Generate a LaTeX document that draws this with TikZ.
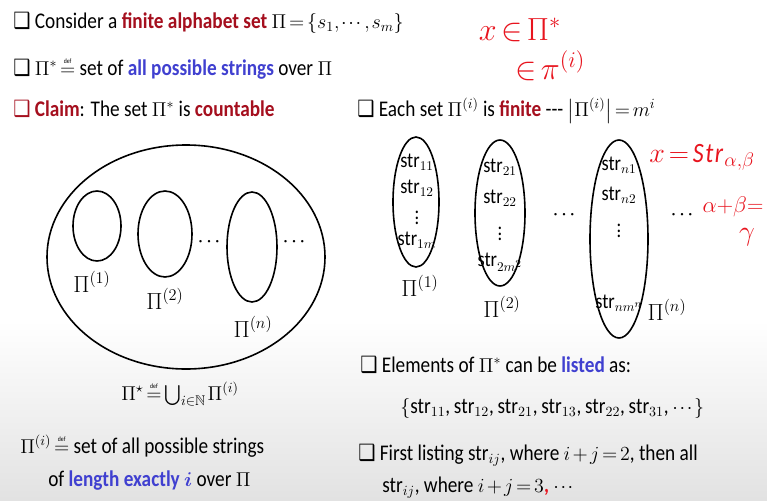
\RequirePackage{fix-cm}
\documentclass[tikz,border=0pt]{standalone}
\usepackage{fontspec}
\usepackage{amsmath,amssymb}
\usepackage{tikz}
\usetikzlibrary{shapes.geometric, positioning}
\setmainfont{Carlito}[FakeStretch=0.86]
\newfontfamily\symfont{DejaVu Sans}[FakeStretch=0.86]
\definecolor{titlered}{RGB}{165,15,30}
\definecolor{keyblue}{RGB}{64,64,208}
\definecolor{inkred}{RGB}{232,20,30}
\definecolor{bggray}{RGB}{226,226,226}
\DeclareMathSizes{16.8}{15}{10.5}{8}
\DeclareMathSizes{16}{13}{10}{8}
\newcommand{\qb}{{\symfont\char"2751}}
\newcommand{\hl}[1]{\textbf{\color{titlered}#1}}
\newcommand{\hb}[1]{\textbf{\color{keyblue}#1}}
\newcommand{\defeq}{\mathrel{\overset{\text{\tiny def}}{=}}}
\thinmuskip=1.5mu
\medmuskip=2mu
\thickmuskip=2.5mu

\begin{document}
\begin{tikzpicture}[
    x=0.75pt, y=-0.75pt,
    txt/.style={anchor=base west, inner sep=0pt, font=\fontsize{16.8}{20}\selectfont, text=black},
    ctxt/.style={anchor=base, inner sep=0pt, font=\fontsize{16.8}{20}\selectfont, text=black},
    lbl/.style={inner sep=0pt, font=\fontsize{17.5}{20}\selectfont},
    entry/.style={inner sep=0pt, font=\fontsize{16}{18}\selectfont},
    setshape/.style={ellipse, draw, line width=1.2pt, inner sep=0pt},
    ink/.style={inner sep=0pt, text=inkred, font=\fontsize{21}{24}\selectfont}
]
% slide background
\fill[white] (0,0) rectangle (767,500);
\shade[top color=white, bottom color=bggray] (0,320) rectangle (767,500);
\useasboundingbox (0,0) rectangle (767,500);

% left column
\node[txt] (consider) at (13,28) {\qb\ Consider a \hl{finite alphabet set} $\Pi=\{s_1,\cdots,s_m\}$};
\node[txt] (kleene) at (13,75) {\qb\ $\Pi^{*}\defeq$ set of \hb{all possible strings} over $\Pi$};
\node[txt] (claim) at (13,116) {\hl{\qb\ Claim}: The set $\Pi^{*}$ is \hl{countable}};

\node[setshape, minimum width=208.5pt, minimum height=168pt] (allstr) at (186,257) {};
\node[setshape, minimum width=36pt, minimum height=52.5pt] (len1) at (97,226) {};
\node[setshape, minimum width=40.5pt, minimum height=64.5pt] (len2) at (165,234) {};
\node[setshape, minimum width=37.5pt, minimum height=82.5pt] (lenn) at (252,247) {};
\node[lbl] (len1lab) at (92,282) {$\Pi^{(1)}$};
\node[lbl] (len2lab) at (165,299) {$\Pi^{(2)}$};
\node[lbl] (lennlab) at (253,327) {$\Pi^{(n)}$};
\node[lbl] (ldots1) at (210,242) {$\cdots$};
\node[lbl] (ldots2) at (295,242) {$\cdots$};

\node[ctxt] (union) at (180,400) {$\Pi^{\star}\defeq\bigcup_{i\in\mathbb{N}}\Pi^{(i)}$};
\node[txt] (lendef) at (20,453) {$\Pi^{(i)}\defeq$ set of all possible strings};
\node[txt] (lendef2) at (48,486) {of \hb{length exactly {\color{keyblue}$\boldsymbol{i}$}} over $\Pi$};

% right column
\node[txt] (finite) at (357,116) {\qb\ Each set $\Pi^{(i)}$ is \hl{finite} -{}-{}- $\bigl|\Pi^{(i)}\bigr|=m^i$};

\node[setshape, minimum width=34.5pt, minimum height=97.5pt] (set1) at (416,202) {};
\node[setshape, minimum width=37.5pt, minimum height=109.5pt] (set2) at (500,213) {};
\node[setshape, minimum width=43.5pt, minimum height=148.5pt] (setn) at (619,239) {};

\node[entry] (s11) at (417,162) {str$_{11}$};
\node[entry] (s12) at (417,188) {str$_{12}$};
\node[entry] (s1v) at (417,214) {$\vdots$};
\node[entry] (s1m) at (417,240) {str$_{1m}$};
\node[entry] (s21) at (500,167) {str$_{21}$};
\node[entry] (s22) at (500,198) {str$_{22}$};
\node[entry] (s2v) at (500,230) {$\vdots$};
\node[entry] (s2m) at (500,262) {str$_{2m^2}$};
\node[entry] (sn1) at (619,165) {str$_{n1}$};
\node[entry] (sn2) at (619,195) {str$_{n2}$};
\node[entry] (snv) at (619,227) {$\vdots$};
\node[entry] (snm) at (619,303) {str$_{nm^n}$};

\node[lbl] (set1lab) at (420,286) {$\Pi^{(1)}$};
\node[lbl] (set2lab) at (502,307) {$\Pi^{(2)}$};
\node[lbl] (setnlab) at (667,310) {$\Pi^{(n)}$};
\node[lbl] (rdots1) at (565,215) {$\cdots$};
\node[lbl] (rdots2) at (683,215) {$\cdots$};

\node[txt] (listed) at (360,372) {\qb\ Elements of $\Pi^{*}$ can be \hb{listed} as:};
\node[txt] (listing) at (400,413) {$\{$str$_{11}$,\,str$_{12}$,\,str$_{21}$,\,str$_{13}$,\,str$_{22}$,\,str$_{31}$,\,$\cdots\}$};
\node[txt] (order) at (358,460) {\qb\ First listing str$_{ij}$, where $i+j=2$, then all};
\node[txt] (order2) at (382,492) {str$_{ij}$, where $i+j=3${\color{inkred}\textbf{,}} $\cdots$};

% handwritten notes
\node[ink, font=\fontsize{24}{28}\selectfont] (inkx) at (520,30) {$x\in\Pi^{*}$};
\node[ink, font=\fontsize{24}{28}\selectfont] (inkpi) at (550,66) {$\in\pi^{(i)}$};
\node[ink] (inkstr) at (702,157) {$x=\mathit{Str}_{\alpha,\beta}$};
\node[ink, font=\fontsize{17}{20}\selectfont] (inksum) at (733,207) {$\alpha{+}\beta{=}$};
\node[ink] (inkgam) at (747,237) {$\gamma$};
\end{tikzpicture}
\end{document}
